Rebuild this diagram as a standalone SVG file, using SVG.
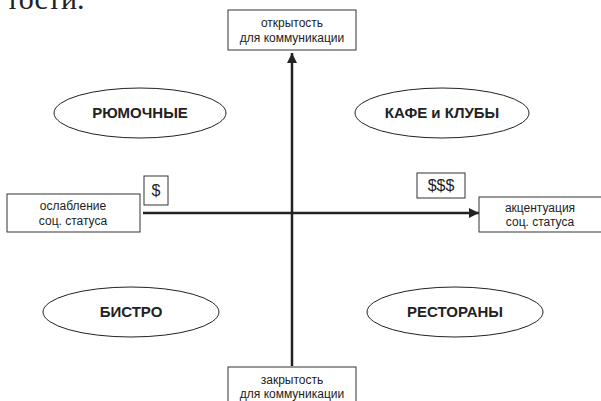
<svg xmlns="http://www.w3.org/2000/svg" width="601" height="401" viewBox="0 0 601 401">
<style>
.box{fill:#fff;stroke:#333;stroke-width:1}
.ell{fill:#fff;stroke:#222;stroke-width:1}
.lbl{font-family:"Liberation Sans",Arial,sans-serif;font-size:12px;fill:#222;text-anchor:middle}
.big{font-family:"Liberation Sans",Arial,sans-serif;font-size:15px;font-weight:bold;fill:#222;text-anchor:middle}
.cur{font-family:"Liberation Sans",Arial,sans-serif;font-size:16px;fill:#222;text-anchor:middle}
.ax{stroke:#222;stroke-width:2.5;fill:none}
</style>
<defs>
<marker id="ah" viewBox="0 0 10 10" refX="10" refY="5" markerWidth="4" markerHeight="4" orient="auto" markerUnits="strokeWidth">
<path d="M0,0 L10,5 L0,10 z" fill="#222"/>
</marker>
</defs>
<rect width="601" height="401" fill="#fff"/>
<text x="6" y="9" font-family="'Liberation Serif',serif" font-size="30" fill="#222">тости.</text>
<g id="connectors">
<line class="ax" x1="292" y1="366" x2="292" y2="53" marker-end="url(#ah)"/>
<line class="ax" x1="143" y1="213" x2="479" y2="213" marker-end="url(#ah)"/>
</g>
<g id="top">
<rect class="box" x="228" y="10" width="128" height="40"/>
<text class="lbl" x="292" y="27">открытость</text>
<text class="lbl" x="292" y="42">для коммуникации</text>
</g>
<g id="bottom">
<rect class="box" x="228" y="367" width="128" height="40"/>
<text class="lbl" x="292" y="384">закрытость</text>
<text class="lbl" x="292" y="398">для коммуникации</text>
</g>
<g id="left">
<rect class="box" x="7" y="194" width="133" height="38"/>
<text class="lbl" x="73" y="210">ослабление</text>
<text class="lbl" x="73" y="225">соц. статуса</text>
</g>
<g id="right">
<rect class="box" x="479" y="197" width="126" height="35"/>
<text class="lbl" x="540" y="212">акцентуация</text>
<text class="lbl" x="540" y="226">соц. статуса</text>
</g>
<g id="cheap">
<rect class="box" x="144" y="176" width="24" height="29"/>
<text class="cur" x="156" y="196">$</text>
</g>
<g id="expensive">
<rect class="box" x="417" y="173" width="48" height="25"/>
<text class="cur" x="441" y="191">$$$</text>
</g>
<g id="rumochnye">
<ellipse class="ell" cx="140" cy="113" rx="86" ry="25"/>
<text class="big" x="140" y="118">РЮМОЧНЫЕ</text>
</g>
<g id="kafe">
<ellipse class="ell" cx="442" cy="113" rx="87" ry="25"/>
<text class="big" x="442" y="118">КАФЕ и КЛУБЫ</text>
</g>
<g id="bistro">
<ellipse class="ell" cx="131" cy="312" rx="88" ry="25"/>
<text class="big" x="131" y="317">БИСТРО</text>
</g>
<g id="restorany">
<ellipse class="ell" cx="455" cy="312" rx="88" ry="25"/>
<text class="big" x="455" y="317">РЕСТОРАНЫ</text>
</g>
</svg>
